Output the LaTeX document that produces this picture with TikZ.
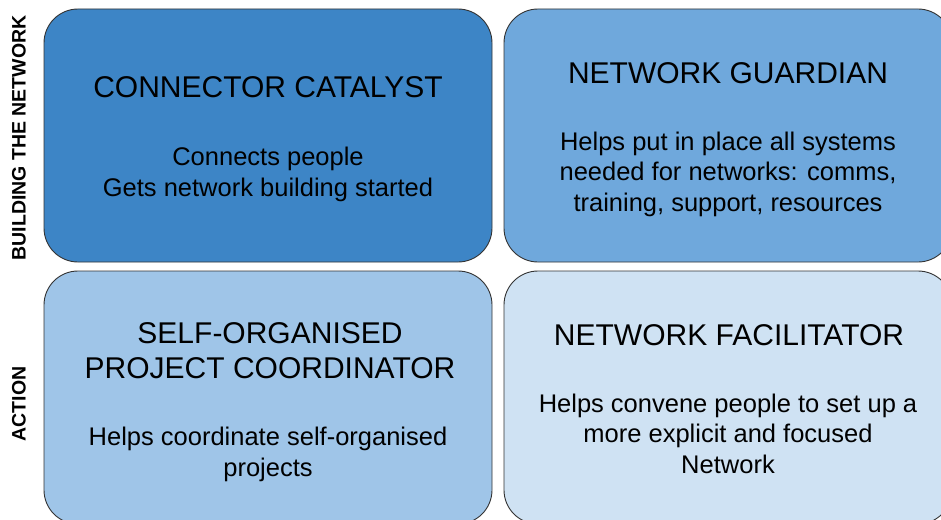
\documentclass[tikz,border=0pt]{standalone}
\usepackage{fontspec}
\setmainfont{Liberation Sans}
\definecolor{roleA}{HTML}{3D85C6}
\definecolor{roleB}{HTML}{6FA8DC}
\definecolor{roleC}{HTML}{9FC5E8}
\definecolor{roleD}{HTML}{CFE2F3}
\tikzset{
  rolebox/.style={draw=black!80,line width=0.9pt,rounded corners=34pt,minimum width=448pt,minimum height=253pt},
  roletitle/.style={anchor=base,align=center,font=\fontsize{30}{35}\selectfont},
  roletext/.style={anchor=base,align=center,font=\fontsize{25.5}{30.5}\selectfont},
  axislabel/.style={anchor=base,rotate=90,font=\fontsize{19.5}{20}\bfseries\selectfont}
}
\begin{document}
\begin{tikzpicture}[x=1pt,y=-1pt]
				\useasboundingbox (0,0) rectangle (941,519);
				\clip (0,0) rectangle (941,519);
				% the four roles (base anchor = baseline of the last line)
				\foreach \n/\x/\y/\c in {catalyst/268/135.5/roleA,guardian/728/135.5/roleB,coordinator/268/397.5/roleC,facilitator/728/397.5/roleD}
				\node[rolebox,fill=\c] (\n) at (\x,\y) {};
				\node[roletitle] (catalyst-t) at (268,97) {CONNECTOR CATALYST};
				\node[roletext] (catalyst-b) at (268,196) {Connects people\\Gets network building started};
				\node[roletitle] (guardian-t) at (728,83) {NETWORK GUARDIAN};
				\node[roletext] (guardian-b) at (728,211) {Helps put in place all systems\\needed for networks: comms,\\training, support, resources};
				\node[roletitle] (coordinator-t) at (270,378) {SELF-ORGANISED\\PROJECT COORDINATOR};
				\node[roletext] (coordinator-b) at (268,476) {Helps coordinate self-organised\\projects};
				\node[roletitle] (facilitator-t) at (729,345) {NETWORK FACILITATOR};
				\node[roletext] (facilitator-b) at (728,473) {Helps convene people to set up a\\more explicit and focused\\Network};
				% row labels
				\node[axislabel] (build) at (25.5,138) {BUILDING THE NETWORK};
				\node[axislabel] (action) at (25.5,404) {ACTION};
			\end{tikzpicture}
\end{document}
